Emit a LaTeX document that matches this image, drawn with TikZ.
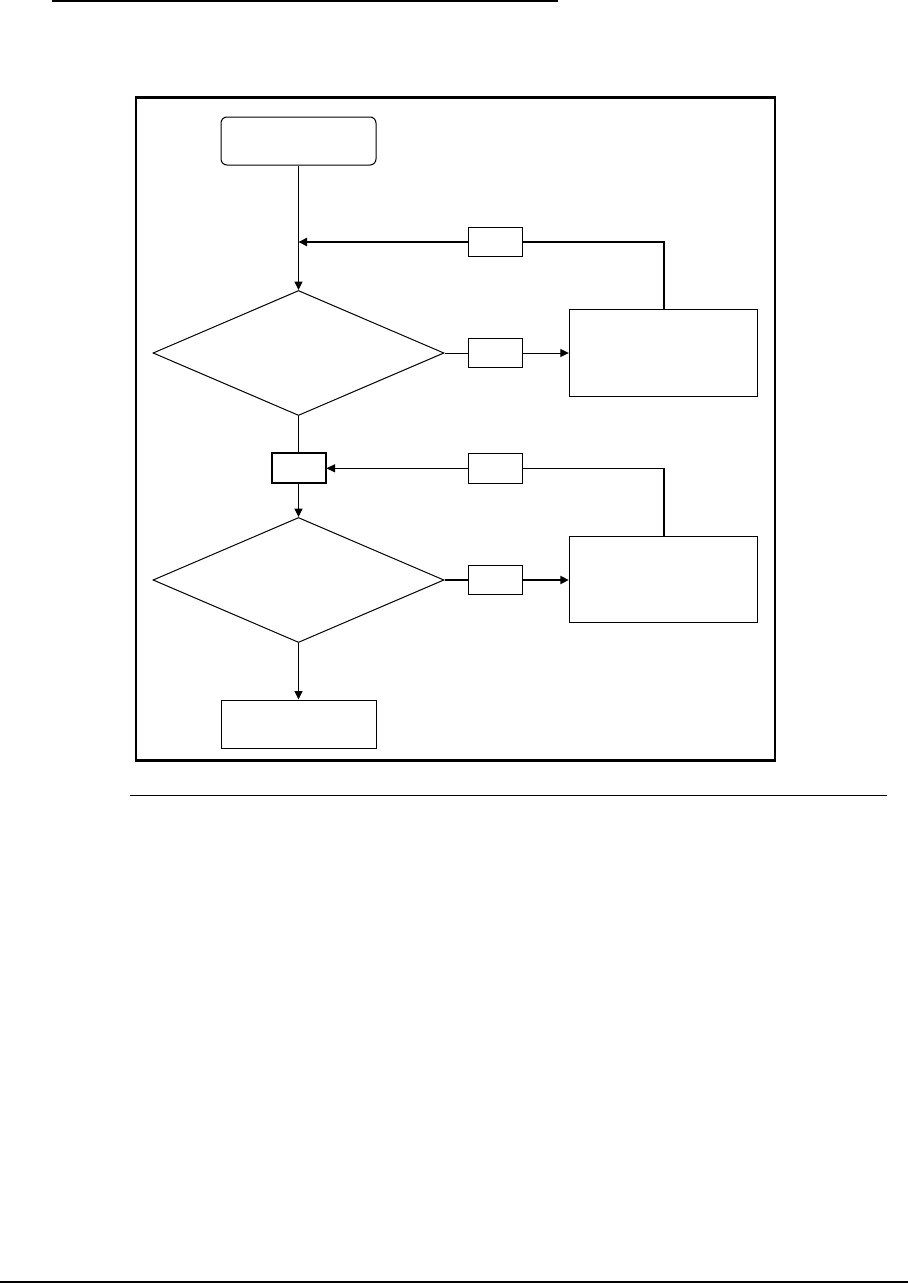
\documentclass[tikz,border=0pt]{standalone}
\usetikzlibrary{shapes.geometric,arrows.meta}
\begin{document}
\begin{tikzpicture}[x=1pt,y=-1pt,
  thinline/.style={line width=1pt},
  thickline/.style={line width=2pt},
  arr/.style={-{Triangle[length=8.5pt,width=8pt]}},
  boxnode/.style={draw,line width=1pt,inner sep=0pt,minimum width=#1},
  tag/.style={draw,line width=1pt,inner sep=0pt,minimum width=54pt,minimum height=29.5pt},
  decision/.style={draw,diamond,line width=1pt,inner sep=0pt,minimum width=291pt,minimum height=125pt}]
\useasboundingbox (0,0) rectangle (908,1283);
% page rules and frame
\draw[line width=2pt] (52,1) -- (558,1);
\draw[line width=2.5pt] (136,97.5) rectangle (775,760.7);
\draw[line width=1.3pt] (130,795.5) -- (887,795.5);
\draw[line width=2pt] (0,1282) -- (908,1282);
% nodes
\node[boxnode=155pt,minimum height=48pt,rounded corners=6pt] (start) at (298.5,141) {};
\node[decision] (d1) at (298.5,353) {};
\node[decision] (d2) at (298.5,580) {};
\node[tag] (fb1) at (495.3,242) {};
\node[tag] (yes1) at (495.3,353) {};
\node[tag] (fb2) at (495.3,468.3) {};
\node[tag] (yes2) at (495.3,580) {};
\node[draw,line width=2pt,inner sep=0pt,minimum width=54pt,minimum height=30pt] (mid) at (298.5,468.3) {};
\node[boxnode=188.4pt,minimum height=87pt] (box1) at (663.5,352.8) {};
\node[boxnode=188.4pt,minimum height=86.3pt] (box2) at (663.5,579.8) {};
\node[boxnode=155pt,minimum height=48pt] (end) at (298.5,724) {};
\coordinate (j1) at (d1.north |- fb1.west);
\coordinate (c2) at (box2.north |- fb2.east);
% connectors
\draw[thinline,arr] (start.south) -- (d1.north);
\draw[thickline] (box1.north) |- (fb1.east);
\draw[thickline,arr] (fb1.west) -- (j1);
\draw[thinline] (d1.east) -- (yes1.west);
\draw[thinline,arr] (yes1.east) -- (box1.west |- yes1.east);
\draw[thinline] (d1.south) -- (mid.north);
\draw[thinline,arr] (mid.south) -- (d2.north);
\draw[thickline] (box2.north) -- (c2);
\draw[thinline] (c2) -- (fb2.east);
\draw[thinline,arr] (fb2.west) -- (mid.east);
\draw[thickline] (d2.east) -- (yes2.west);
\draw[thickline,arr] (yes2.east) -- (box2.west |- yes2.east);
\draw[thinline,arr] (d2.south) -- (end.north);
\end{tikzpicture}
\end{document}
